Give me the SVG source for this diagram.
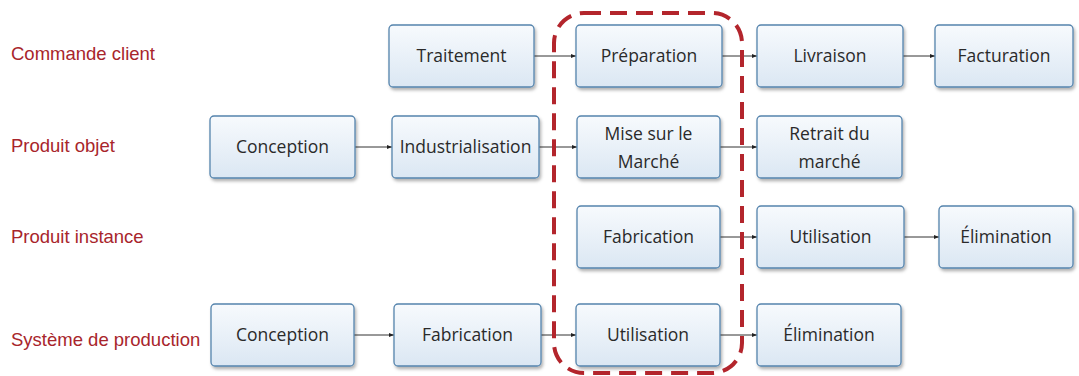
<svg xmlns="http://www.w3.org/2000/svg" width="1079" height="376" viewBox="0 0 1079 376">
<defs>
<linearGradient id="bg" x1="0" y1="0" x2="0" y2="1">
<stop offset="0" stop-color="#f7fafd"/>
<stop offset="1" stop-color="#dbe7f3"/>
</linearGradient>
<filter id="sh" x="-10%" y="-10%" width="125%" height="135%">
<feDropShadow dx="1.5" dy="2.5" stdDeviation="1.8" flood-color="#000" flood-opacity="0.3"/>
</filter>
<marker id="ah" viewBox="0 0 10 10" refX="10" refY="5" markerWidth="5" markerHeight="5" orient="auto" markerUnits="userSpaceOnUse">
<path d="M0,1 L10,5 L0,9 z" fill="#222"/>
</marker>
<style>
.box{fill:url(#bg);stroke:#5584ad;stroke-width:1.3;filter:url(#sh)}
.t{font-family:"Open Sans","Noto Sans",sans-serif;font-size:17.5px;fill:#2a2a2a;text-anchor:middle}
.lbl{font-family:"Liberation Sans",Arial,sans-serif;font-size:18.5px;fill:#a8252b}
.c{stroke:#333;stroke-width:1;fill:none;marker-end:url(#ah)}
.hl{fill:none;stroke:#b3252c;stroke-width:4;stroke-dasharray:17 9}
</style>
</defs>
<rect width="1079" height="376" fill="#fff"/>

<g id="labels">
<text class="lbl" x="11" y="60">Commande client</text>
<text class="lbl" x="11" y="152">Produit objet</text>
<text class="lbl" x="11" y="243">Produit instance</text>
<text class="lbl" x="11" y="346">Système de production</text>
</g>

<g id="connectors">
<line class="c" x1="534" y1="56" x2="576" y2="56"/>
<line class="c" x1="722" y1="56" x2="757" y2="56"/>
<line class="c" x1="903" y1="56" x2="935" y2="56"/>
<line class="c" x1="355" y1="147" x2="392" y2="147"/>
<line class="c" x1="539" y1="147" x2="577" y2="147"/>
<line class="c" x1="720" y1="147" x2="757" y2="147"/>
<line class="c" x1="720" y1="237" x2="757" y2="237"/>
<line class="c" x1="904" y1="237" x2="939" y2="237"/>
<line class="c" x1="354" y1="335" x2="394" y2="335"/>
<line class="c" x1="541" y1="335" x2="576" y2="335"/>
<line class="c" x1="720" y1="335" x2="757" y2="335"/>
</g>

<g id="n-traitement"><rect class="box" x="389" y="25" width="145" height="62" rx="4"/><text class="t" x="461.5" y="62">Traitement</text></g>
<g id="n-preparation"><rect class="box" x="576" y="25" width="146" height="62" rx="4"/><text class="t" x="649" y="62">Préparation</text></g>
<g id="n-livraison"><rect class="box" x="757" y="25" width="146" height="62" rx="4"/><text class="t" x="830" y="62">Livraison</text></g>
<g id="n-facturation"><rect class="box" x="935" y="25" width="138" height="62" rx="4"/><text class="t" x="1004" y="62">Facturation</text></g>

<g id="n-conception1"><rect class="box" x="210" y="116" width="145" height="62" rx="4"/><text class="t" x="282.5" y="153">Conception</text></g>
<g id="n-industrialisation"><rect class="box" x="392" y="116" width="147" height="62" rx="4"/><text class="t" x="465.5" y="153">Industrialisation</text></g>
<g id="n-mise"><rect class="box" x="577" y="116" width="143" height="62" rx="4"/><text class="t" x="648.5" y="140">Mise sur le</text><text class="t" x="648.5" y="168">Marché</text></g>
<g id="n-retrait"><rect class="box" x="757" y="116" width="145" height="62" rx="4"/><text class="t" x="829.5" y="140">Retrait du</text><text class="t" x="829.5" y="168">marché</text></g>

<g id="n-fabrication1"><rect class="box" x="577" y="206" width="143" height="62" rx="4"/><text class="t" x="648.5" y="243">Fabrication</text></g>
<g id="n-utilisation1"><rect class="box" x="757" y="206" width="147" height="62" rx="4"/><text class="t" x="830.5" y="243">Utilisation</text></g>
<g id="n-elimination1"><rect class="box" x="939" y="206" width="134" height="62" rx="4"/><text class="t" x="1006" y="243">Élimination</text></g>

<g id="n-conception2"><rect class="box" x="211" y="304" width="143" height="62" rx="4"/><text class="t" x="282.5" y="341">Conception</text></g>
<g id="n-fabrication2"><rect class="box" x="394" y="304" width="147" height="62" rx="4"/><text class="t" x="467.5" y="341">Fabrication</text></g>
<g id="n-utilisation2"><rect class="box" x="576" y="304" width="144" height="62" rx="4"/><text class="t" x="648" y="341">Utilisation</text></g>
<g id="n-elimination2"><rect class="box" x="757" y="304" width="144" height="62" rx="4"/><text class="t" x="829" y="341">Élimination</text></g>

<g id="highlight">
<rect class="hl" x="554" y="13" width="188" height="360" rx="30"/>
</g>
</svg>
